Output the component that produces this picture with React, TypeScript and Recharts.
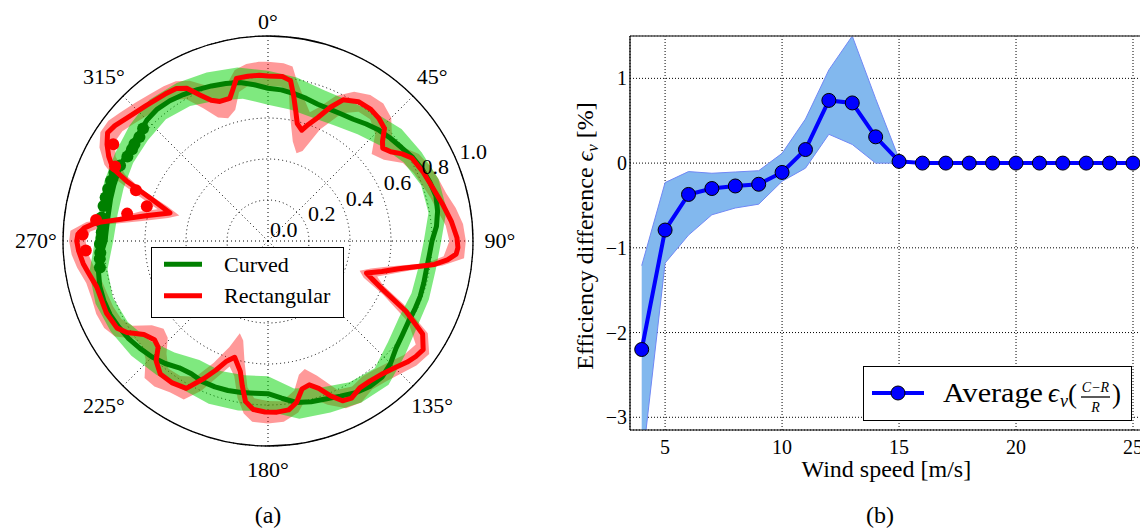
import React from 'react';
import {
  RadarChart, Radar, PolarGrid, PolarAngleAxis, PolarRadiusAxis, Legend,
  ComposedChart, Area, Line, XAxis, YAxis, CartesianGrid, ReferenceLine,
} from 'recharts';

const FONT = "'Liberation Serif', 'Times New Roman', serif";

// ---------------- Panel (a): polar data ----------------
const ANGLE_LABELS = [0, 45, 90, 135, 180, 225, 270, 315];
const RADIUS_DOMAIN: [number, number] = [0, 1];
const RADIUS_TICK_COUNT = 6;
const ANGLE_DOMAIN: [number, number] = [0, 360];
const SERIES_NAMES = ['Curved', 'Rectangular'];
const SERIES_COLORS = ['#008000', '#ff0000'];

// Curved: [angle deg, r]
const CURVED_LINE: [number, number][] = [
  [0, 0.745], [5, 0.74], [10, 0.73], [15, 0.72], [20, 0.71], [25, 0.71], [30, 0.715], [35, 0.725],
  [40, 0.745], [45, 0.765], [50, 0.78], [55, 0.795], [60, 0.815], [65, 0.83], [70, 0.84], [75, 0.848],
  [80, 0.84], [85, 0.825], [90, 0.8], [95, 0.79], [100, 0.785], [105, 0.787], [110, 0.79], [115, 0.79],
  [120, 0.79], [125, 0.8], [130, 0.815], [135, 0.845], [140, 0.866], [145, 0.866], [150, 0.855], [155, 0.835],
  [160, 0.82], [165, 0.812], [170, 0.8], [175, 0.77], [180, 0.745], [185, 0.745], [190, 0.75], [195, 0.755],
  [200, 0.757], [205, 0.757], [210, 0.748], [215, 0.755], [220, 0.78], [225, 0.8], [230, 0.815], [235, 0.83],
  [240, 0.84], [245, 0.85], [250, 0.852], [255, 0.85], [260, 0.84], [265, 0.82], [270, 0.795], [275, 0.79],
  [280, 0.79], [285, 0.795], [290, 0.8], [295, 0.805], [300, 0.81], [305, 0.815], [310, 0.82], [315, 0.835],
  [320, 0.84], [325, 0.835], [330, 0.825], [335, 0.815], [340, 0.805], [345, 0.795], [350, 0.785], [355, 0.765],
];

// Curved band: [angle, low, high]
const CURVED_BAND: [number, number, number][] = [
  [0, 0.665, 0.83], [10, 0.65, 0.81], [20, 0.64, 0.785], [30, 0.65, 0.79], [40, 0.68, 0.815],
  [50, 0.72, 0.85], [60, 0.765, 0.865], [70, 0.795, 0.885], [80, 0.795, 0.885], [90, 0.76, 0.845],
  [100, 0.745, 0.83], [110, 0.745, 0.835], [120, 0.74, 0.84], [130, 0.765, 0.87], [140, 0.81, 0.915],
  [150, 0.795, 0.91], [160, 0.76, 0.89], [170, 0.73, 0.88], [180, 0.66, 0.83], [190, 0.665, 0.84],
  [200, 0.675, 0.845], [210, 0.67, 0.835], [220, 0.71, 0.85], [230, 0.755, 0.87], [240, 0.79, 0.885],
  [250, 0.805, 0.895], [260, 0.795, 0.885], [270, 0.755, 0.845], [280, 0.745, 0.835], [290, 0.75, 0.85],
  [300, 0.76, 0.86], [310, 0.765, 0.88], [320, 0.775, 0.9], [330, 0.76, 0.89], [340, 0.73, 0.875],
  [350, 0.705, 0.86],
];

// Rectangular: [angle, r]
const RECT_LINE: [number, number][] = [
  [0, 0.805], [5, 0.805], [8, 0.79], [10, 0.72], [12, 0.65], [14, 0.59], [17, 0.565], [19, 0.6],
  [22, 0.65], [25, 0.72], [28, 0.78], [33, 0.81], [38, 0.815], [42, 0.807], [46, 0.79], [49, 0.74],
  [51, 0.72], [54, 0.74], [57, 0.78], [60, 0.81], [66, 0.828], [72, 0.844], [78, 0.87], [84, 0.9],
  [89, 0.922], [92, 0.927], [94, 0.92], [96, 0.88], [98, 0.82], [102, 0.653], [105, 0.575], [108, 0.505],
  [110, 0.54], [113, 0.61], [117, 0.755], [121, 0.88], [125, 0.924], [128, 0.915], [131, 0.9], [135, 0.875],
  [139, 0.856], [144, 0.845], [148, 0.845], [152, 0.868], [155, 0.86], [158, 0.815], [161, 0.76], [164, 0.73],
  [167, 0.74], [170, 0.8], [173, 0.83], [177, 0.836], [181, 0.834], [185, 0.825], [188, 0.79], [190, 0.72],
  [192, 0.65], [196, 0.59], [199, 0.62], [202, 0.68], [205, 0.74], [209, 0.822], [214, 0.835], [219, 0.835],
  [223, 0.8], [226, 0.745], [229, 0.734], [233, 0.758], [237, 0.82], [240, 0.85], [246, 0.863], [255, 0.865],
  [260, 0.89], [263, 0.908], [267, 0.925], [270, 0.933], [272, 0.928], [274, 0.9], [276, 0.845], [279, 0.7],
  [282, 0.6], [286, 0.497], [290, 0.61], [293, 0.75], [295, 0.834], [298, 0.88], [301, 0.916], [304, 0.944],
  [307, 0.935], [311, 0.913], [318, 0.889], [325, 0.875], [329, 0.868], [332, 0.844], [335, 0.786], [338, 0.74],
  [341, 0.72], [345, 0.72], [347, 0.76], [349, 0.808], [353, 0.81], [357, 0.81],
];

// Rectangular band: [angle, low, high]
const RECT_BAND: [number, number, number][] = [
  [0, 0.755, 0.875], [5, 0.755, 0.87], [8, 0.73, 0.86], [10, 0.62, 0.8], [14, 0.5, 0.72], [18, 0.45, 0.66],
  [21, 0.47, 0.7], [25, 0.6, 0.78], [30, 0.72, 0.84], [35, 0.77, 0.87], [40, 0.775, 0.875], [45, 0.74, 0.85],
  [50, 0.66, 0.79], [55, 0.69, 0.8], [60, 0.76, 0.85], [65, 0.785, 0.87], [70, 0.8, 0.885], [75, 0.82, 0.9],
  [80, 0.84, 0.93], [85, 0.87, 0.955], [90, 0.885, 0.965], [95, 0.86, 0.96], [98, 0.78, 0.86], [102, 0.6, 0.7],
  [105, 0.52, 0.62], [108, 0.47, 0.56], [111, 0.5, 0.6], [115, 0.62, 0.73], [120, 0.79, 0.9], [125, 0.88, 0.96],
  [130, 0.865, 0.945], [135, 0.835, 0.915], [140, 0.815, 0.895], [145, 0.805, 0.885], [150, 0.82, 0.91],
  [155, 0.8, 0.9], [160, 0.7, 0.85], [164, 0.65, 0.8], [167, 0.67, 0.8], [170, 0.74, 0.85], [175, 0.785, 0.885],
  [180, 0.78, 0.89], [185, 0.77, 0.885], [188, 0.72, 0.85], [191, 0.6, 0.78], [194, 0.5, 0.68], [197, 0.47, 0.64],
  [200, 0.55, 0.7], [204, 0.65, 0.8], [208, 0.75, 0.875], [213, 0.785, 0.88], [218, 0.79, 0.9], [222, 0.74, 0.9],
  [226, 0.68, 0.83], [230, 0.665, 0.8], [234, 0.7, 0.81], [238, 0.78, 0.88], [242, 0.81, 0.905], [247, 0.82, 0.91],
  [252, 0.825, 0.905], [257, 0.835, 0.91], [262, 0.86, 0.94], [266, 0.88, 0.96], [270, 0.89, 0.97],
  [273, 0.87, 0.965], [276, 0.78, 0.89], [279, 0.62, 0.74], [283, 0.5, 0.64], [286, 0.45, 0.56], [289, 0.52, 0.66],
  [292, 0.66, 0.8], [295, 0.77, 0.88], [299, 0.85, 0.94], [303, 0.89, 0.975], [307, 0.89, 0.975],
  [311, 0.87, 0.955], [316, 0.85, 0.935], [321, 0.835, 0.92], [326, 0.83, 0.91], [330, 0.8, 0.9],
  [334, 0.72, 0.87], [338, 0.65, 0.82], [342, 0.63, 0.79], [346, 0.66, 0.8], [349, 0.74, 0.85],
  [353, 0.765, 0.87], [357, 0.76, 0.875],
];

const CURVED_DOTS: [number, number][] = [
  [261, 0.83], [264, 0.825], [266, 0.82], [269, 0.82], [271, 0.812], [273, 0.812], [276, 0.815], [278, 0.82],
  [282, 0.82], [285, 0.82], [288, 0.82], [291, 0.82], [294, 0.82], [297, 0.81], [301, 0.8], [304, 0.8],
  [306, 0.805], [309, 0.807], [312, 0.82],
];

const RECT_DOTS: [number, number][] = [
  [267, 0.89], [272, 0.905], [277, 0.845], [281, 0.7], [286, 0.615], [291, 0.69], [296, 0.83], [302, 0.89],
];

// ---------------- Panel (b) data ----------------
const WIND_SPEED = [4, 5, 6, 7, 8, 9, 10, 11, 12, 13, 14, 15, 16, 17, 18, 19, 20, 21, 22, 23, 24, 25];
const AVG_DIFF = [-2.2, -0.79, -0.37, -0.3, -0.27, -0.25, -0.11, 0.16, 0.74, 0.71, 0.31, 0.02, 0, 0, 0, 0, 0, 0, 0, 0, 0, 0];
const BAND_HIGH = [-1.21, -0.23, -0.1, -0.12, -0.105, -0.09, 0.115, 0.52, 1.1, 1.5, 0.76, 0.05, 0, 0, 0, 0, 0, 0, 0, 0, 0, 0];
const BAND_LOW = [-3.6, -1.18, -0.85, -0.61, -0.53, -0.485, -0.215, -0.06, 0.34, 0.22, 0, 0, 0, 0, 0, 0, 0, 0, 0, 0, 0, 0];
const X_TICKS = [5, 10, 15, 20, 25];
const Y_TICKS = [-3, -2, -1, 0, 1];
const X_DOMAIN: [number, number] = [3.5, 25.5];
const Y_DOMAIN: [number, number] = [-3.15, 1.5];

// ---------------- layout constants ----------------
const CX = 268;
const CY = 241;
const R = 205;
const PW = 536;
const PH = 529;

// tables
const baseRows = ANGLE_LABELS.map((angle) => ({ angle }));
const curvedLineRows = CURVED_LINE.map(([angle, v]) => ({ angle, v }));
const curvedBandRows = CURVED_BAND.map(([angle, lo, hi]) => ({ angle, v: [lo, hi] }));
const rectLineRows = RECT_LINE.map(([angle, v]) => ({ angle, v }));
const rectBandRows = RECT_BAND.map(([angle, lo, hi]) => ({ angle, v: [lo, hi] }));
const curvedDotRows = CURVED_DOTS.map(([angle, v]) => ({ angle, v }));
const rectDotRows = RECT_DOTS.map(([angle, v]) => ({ angle, v }));

const rowsB = WIND_SPEED.map((x, i) => ({ x, avg: AVG_DIFF[i], band: [BAND_LOW[i], BAND_HIGH[i]] }));

// ---------------- renderers ----------------
const AngleTick = (props: any) => {
  const v = Number(props?.payload?.value);
  if (!ANGLE_LABELS.includes(v)) return <g />;
  const rad = (v * Math.PI) / 180;
  const d = v === 0 ? 219 : v === 180 ? 229 : 232;
  const x = CX + d * Math.sin(rad);
  const y = CY - d * Math.cos(rad);
  return (
    <text x={x} y={y} dy="0.34em" textAnchor="middle" fontSize={22} fontFamily={FONT} fill="#000">
      {v}°
    </text>
  );
};

const RadiusTick = (props: any) => {
  const v = Number(props?.payload?.value);
  return (
    <text x={props.x + 2} y={props.y - 4} textAnchor="start" fontSize={22} fontFamily={FONT} fill="#000">
      {v.toFixed(1)}
    </text>
  );
};

const makeDot = (color: string, rr: number) => (props: any) => {
  const ok = Number.isFinite(props?.cx) && Number.isFinite(props?.cy);
  if (!ok) return <g key={`e-${props?.index}`} />;
  return <circle key={`d-${props.index}`} cx={props.cx} cy={props.cy} r={rr} fill={color} stroke="none" />;
};
const greenDot = makeDot('#008000', 6);
const redDot = makeDot('#ff0000', 6);

const LineLegend = (props: any) => {
  const it = (props?.payload ?? []).filter((p: any) => p.type !== 'none')[0];
  const name = it?.value ?? 'Average';
  return (
    <svg width={270} height={56} style={{ display: 'block' }}>
      <rect x={0.5} y={0.5} width={268} height={54} fill="#fff" stroke="#000" strokeWidth={1} />
      <line x1={9} x2={61} y1={27} y2={27} stroke="#0000ff" strokeWidth={4} />
      <circle cx={35} cy={27} r={7} fill="#0000ff" stroke="#000" strokeWidth={1} />
      <text x={80} y={36} fontSize={27} fontFamily={FONT} fill="#000" textLength={100} lengthAdjust="spacingAndGlyphs">{name}</text>
      <text x={185} y={36} fontSize={27} fontFamily={FONT} fontStyle="italic" fill="#000">ϵ</text>
      <text x={197} y={41} fontSize={18} fontFamily={FONT} fontStyle="italic" fill="#000">v</text>
      <text x={205} y={37} fontSize={27} fontFamily={FONT} fill="#000">(</text>
      <text x={232.5} y={26} fontSize={14} fontFamily={FONT} fontStyle="italic" textAnchor="middle" fill="#000">C−R</text>
      <line x1={218} x2={247} y1={31} y2={31} stroke="#000" strokeWidth={1.3} />
      <text x={232.5} y={46} fontSize={14} fontFamily={FONT} fontStyle="italic" textAnchor="middle" fill="#000">R</text>
      <text x={249} y={37} fontSize={27} fontFamily={FONT} fill="#000">)</text>
    </svg>
  );
};

const XLabel = (props: any) => {
  const vb = props?.viewBox ?? { x: 0, y: 0, width: 0, height: 0 };
  return (
    <text x={vb.x + vb.width / 2 - 1} y={vb.y + 47} textAnchor="middle" fontSize={24} fontFamily={FONT} fill="#000">
      Wind speed [m/s]
    </text>
  );
};

const YLabel = (props: any) => {
  const vb = props?.viewBox ?? { x: 0, y: 0, width: 0, height: 0 };
  const x = vb.x + 3;
  const y = vb.y + vb.height / 2 + 3;
  return (
    <text x={x} y={y} transform={`rotate(-90, ${x}, ${y})`} textAnchor="middle" fontSize={24} fontFamily={FONT} fill="#000">
      Efficiency difference <tspan fontStyle="italic">ϵ</tspan>
      <tspan fontStyle="italic" fontSize={17} dy={5}>v</tspan>
      <tspan dy={-5}> [%]</tspan>
    </text>
  );
};

const fmtY = (v: number) => (v < 0 ? `−${Math.abs(v)}` : `${v}`);

// One polar layer: same centre / radius / scales, its own data
const PolarLayer = ({ data, grid, radiusLabels, children }: { data: any[]; grid?: boolean; radiusLabels?: boolean; children: React.ReactNode }) => (
  <div style={{ position: 'absolute', left: 0, top: 0, pointerEvents: 'none' }}>
    <RadarChart width={PW} height={PH} data={data} cx={CX} cy={CY} outerRadius={R}
      startAngle={90} endAngle={-270} margin={{ top: 0, right: 0, bottom: 0, left: 0 }}>
      {grid ? (
        <PolarGrid
          gridType="circle"
          polarAngles={ANGLE_LABELS.map((a) => 90 - a)}
          stroke="#000"
          strokeWidth={1}
          strokeDasharray="1 3"
        />
      ) : null}
      <PolarAngleAxis dataKey="angle" type="number" domain={ANGLE_DOMAIN} tick={false} tickLine={false} axisLine={false} />
      <PolarRadiusAxis type="number" angle={22.5} domain={RADIUS_DOMAIN} tickCount={RADIUS_TICK_COUNT}
        allowDecimals tick={radiusLabels ? RadiusTick : false} axisLine={false} />
      {children}
    </RadarChart>
  </div>
);

export default function App() {
  return (
    <div style={{ position: 'absolute', left: 0, top: 0, width: 1140, height: 529, overflow: 'hidden', background: '#fff', fontFamily: FONT }}>
      {/* base polar frame: outer circle and angle labels */}
      <div style={{ position: 'absolute', left: 0, top: 0 }}>
        <RadarChart width={PW} height={PH} data={baseRows} cx={CX} cy={CY} outerRadius={R}
          margin={{ top: 0, right: 0, bottom: 0, left: 0 }}>
          <PolarAngleAxis
            dataKey="angle"
            axisLineType="circle"
            axisLine={{ stroke: '#000', strokeWidth: 1.3 }}
            stroke="#000"
            tickLine={false}
            tick={AngleTick}
          />
        </RadarChart>
      </div>

      <PolarLayer data={rectBandRows} grid>
        <Radar dataKey="v" fill="#ff0000" fillOpacity={0.4} stroke="none" dot={false} legendType="none" isAnimationActive={false} />
      </PolarLayer>
      <PolarLayer data={curvedBandRows}>
        <Radar dataKey="v" fill="#00d400" fillOpacity={0.5} stroke="none" dot={false} legendType="none" isAnimationActive={false} />
      </PolarLayer>
      <PolarLayer data={curvedLineRows}>
        <Radar dataKey="v" name={SERIES_NAMES[0]} stroke={SERIES_COLORS[0]} strokeWidth={5} fill="none" fillOpacity={0}
          strokeLinejoin="round" dot={false} isAnimationActive={false} />
      </PolarLayer>
      <PolarLayer data={curvedDotRows}>
        <Radar dataKey="v" stroke="none" fill="none" fillOpacity={0} dot={greenDot} legendType="none" isAnimationActive={false} />
      </PolarLayer>
      <PolarLayer data={rectLineRows}>
        <Radar dataKey="v" name={SERIES_NAMES[1]} stroke={SERIES_COLORS[1]} strokeWidth={5} fill="none" fillOpacity={0}
          strokeLinejoin="round" dot={false} isAnimationActive={false} />
      </PolarLayer>
      <PolarLayer data={rectDotRows} radiusLabels>
        <Radar dataKey="v" stroke="none" fill="none" fillOpacity={0} dot={redDot} legendType="none" isAnimationActive={false} />
      </PolarLayer>

      {/* legend of panel (a) */}
      <svg width={193} height={71} style={{ position: 'absolute', left: 151, top: 247 }}>
        <rect x={0.5} y={0.5} width={192} height={70} fill="#fff" stroke="#000" strokeWidth={1} />
        {SERIES_NAMES.map((n, i) => (
          <g key={n}>
            <line x1={13} x2={51} y1={17.3 + 31.4 * i} y2={17.3 + 31.4 * i} stroke={SERIES_COLORS[i]} strokeWidth={5} />
            <text x={73} y={25 + 31.4 * i} fontSize={22} fontFamily={FONT} fill="#000">{n}</text>
          </g>
        ))}
      </svg>

      <div style={{ position: 'absolute', left: 560, top: 0 }}>
        <ComposedChart
          width={590}
          height={529}
          data={rowsB}
          margin={{ top: 36, right: 5.3, left: 30, bottom: 69 }}
        >
          <CartesianGrid stroke="#000" strokeDasharray="1 2" strokeWidth={1} />
          <XAxis
            dataKey="x"
            type="number"
            domain={X_DOMAIN}
            ticks={X_TICKS}
            allowDataOverflow
            height={30}
            tickSize={0}
            tickMargin={10}
            axisLine={{ stroke: '#000', strokeWidth: 1.2 }}
            tickLine={false}
            tick={{ fill: '#000', fontSize: 20, fontFamily: FONT }}
            label={XLabel}
          />
          <YAxis
            type="number"
            domain={Y_DOMAIN}
            ticks={Y_TICKS}
            allowDataOverflow
            width={40}
            tickSize={0}
            tickMargin={3}
            axisLine={{ stroke: '#000', strokeWidth: 1.2 }}
            tickLine={false}
            tickFormatter={fmtY}
            tick={{ fill: '#000', fontSize: 20, fontFamily: FONT }}
            label={YLabel}
          />
          <ReferenceLine y={1.5} stroke="#555" strokeWidth={1.5} />
          <Area
            type="linear"
            dataKey="band"
            fill="#82b8ee"
            fillOpacity={1}
            stroke="#7088f5"
            strokeWidth={1}
            dot={false}
            activeDot={false}
            legendType="none"
            isAnimationActive={false}
          />
          <Line
            type="linear"
            dataKey="avg"
            name="Average"
            stroke="#0000ff"
            strokeWidth={4}
            dot={{ r: 7, fill: '#0000ff', stroke: '#000', strokeWidth: 1 }}
            activeDot={false}
            isAnimationActive={false}
          />
          <Legend
            verticalAlign="middle"
            layout="horizontal"
            content={LineLegend}
            wrapperStyle={{ position: 'absolute', left: 303, top: 366, width: 270, height: 56 }}
          />
        </ComposedChart>
      </div>

      <svg width={1140} height={529} style={{ position: 'absolute', left: 0, top: 0, pointerEvents: 'none' }}>
        <text x={268} y={523} textAnchor="middle" fontSize={24} fontFamily={FONT} fill="#000">(a)</text>
        <text x={880} y={523} textAnchor="middle" fontSize={24} fontFamily={FONT} fill="#000">(b)</text>
      </svg>
    </div>
  );
}
